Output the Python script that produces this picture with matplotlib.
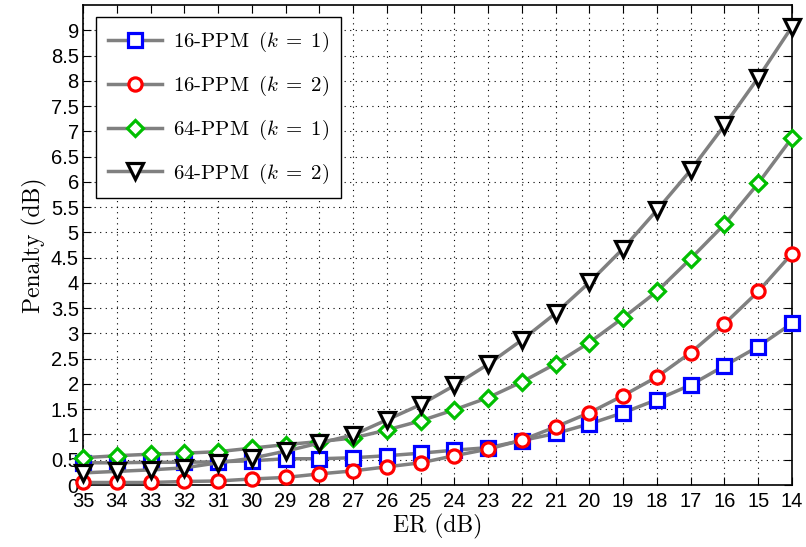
import matplotlib
matplotlib.use("Agg")
import matplotlib.pyplot as plt
import numpy as np

plt.rcParams["mathtext.fontset"] = "cm"
plt.rcParams["axes.unicode_minus"] = False

er_db = [35, 34, 33, 32, 31, 30, 29, 28, 27, 26, 25, 24, 23, 22, 21, 20, 19, 18, 17, 16, 15, 14]

ppm16_k1 = [0.44, 0.44, 0.45, 0.45, 0.46, 0.48, 0.52, 0.52, 0.54, 0.58, 0.63, 0.69, 0.74,
            0.88, 1.02, 1.21, 1.43, 1.69, 1.98, 2.36, 2.74, 3.20]
ppm16_k2 = [0.05, 0.05, 0.05, 0.07, 0.08, 0.12, 0.15, 0.22, 0.28, 0.36, 0.44, 0.58, 0.71,
            0.89, 1.15, 1.43, 1.77, 2.14, 2.62, 3.19, 3.83, 4.58]
ppm64_k1 = [0.54, 0.58, 0.61, 0.63, 0.66, 0.73, 0.80, 0.86, 0.93, 1.09, 1.27, 1.49, 1.73,
            2.04, 2.40, 2.82, 3.31, 3.83, 4.48, 5.16, 5.97, 6.87]
ppm64_k2 = [0.24, 0.27, 0.30, 0.34, 0.44, 0.53, 0.67, 0.83, 0.99, 1.29, 1.59, 1.97, 2.39,
            2.87, 3.40, 4.01, 4.68, 5.44, 6.23, 7.12, 8.06, 9.07]

series = [
    (ppm16_k1, "s", (0, 0, 1), r"16-PPM $\,(k\;=\;1)$"),
    (ppm16_k2, "o", (1, 0, 0), r"16-PPM $\,(k\;=\;2)$"),
    (ppm64_k1, "D", (0, 0.75, 0), r"64-PPM $\,(k\;=\;1)$"),
    (ppm64_k2, "v", (0, 0, 0), r"64-PPM $\,(k\;=\;2)$"),
]

fig = plt.figure(figsize=(8.06, 5.47), dpi=100)
ax = fig.add_axes([0.103, 0.1133, 0.8796, 0.8776])

for vals, mk, col, lab in series:
    ms = 8.5 if mk == "D" else 9.5
    if mk == "v":
        ms = 11
    ax.plot(er_db, vals, color=(0.5, 0.5, 0.5), lw=2.5, marker=mk, ms=ms,
            mfc="white", mec=col, mew=2.3, label=lab, clip_on=False, zorder=3)

ax.set_xlim(35, 14)
ax.set_ylim(0, 9.5)
ax.set_xticks(er_db)
yt = np.arange(0, 9.01, 0.5)
ax.set_yticks(yt)
ax.set_yticklabels([("%g" % v) for v in yt])

ax.grid(True, linestyle=(0, (1, 4)), color="black", linewidth=0.8)
ax.tick_params(direction="in", top=True, right=True, length=6, width=0.8,
               labelsize=14.5, pad=3)
ax.tick_params(axis="x", pad=5)
for lbl in ax.get_xticklabels() + ax.get_yticklabels():
    lbl.set_fontfamily("Liberation Sans")
for sp in ax.spines.values():
    sp.set_linewidth(1.2)

ax.set_xlabel("ER (dB)", fontfamily="cmr10", fontsize=17, labelpad=2)
ax.set_ylabel("Penalty (dB)", fontfamily="cmr10", fontsize=17, labelpad=3)

leg = ax.legend(loc="upper left", prop={"family": "cmr10", "size": 15},
                handlelength=2.6, handletextpad=0.5, labelspacing=0.95,
                borderpad=0.6, fancybox=False, edgecolor="black", framealpha=1,
                bbox_to_anchor=(0.0, 1.0), borderaxespad=0.6)
leg.get_frame().set_linewidth(1.0)

fig.savefig("out.png", dpi=100)
